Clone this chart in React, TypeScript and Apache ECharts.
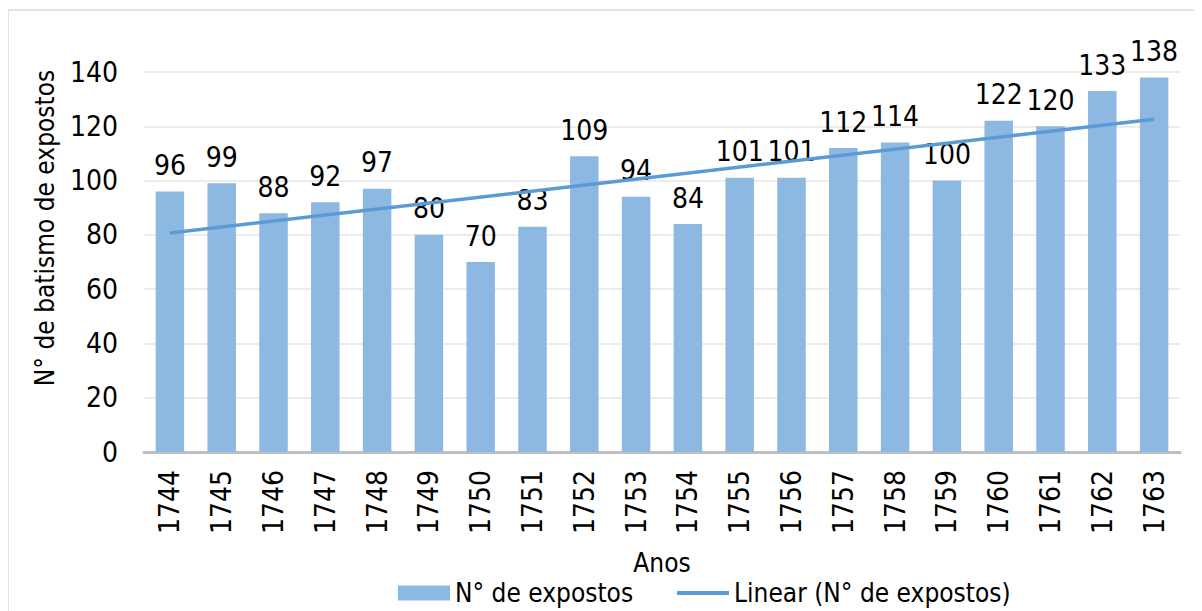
import React, { useEffect, useRef } from "react";
import * as echarts from "echarts";

const years = ["1744","1745","1746","1747","1748","1749","1750","1751","1752","1753","1754","1755","1756","1757","1758","1759","1760","1761","1762","1763"];
const expostos = [96, 99, 88, 92, 97, 80, 70, 83, 109, 94, 84, 101, 101, 112, 114, 100, 122, 120, 133, 138];
// Linear trend line endpoints (first and last year)
const trendStart = 80.7;
const trendEnd = 122.6;
const yTicks = [0, 20, 40, 60, 80, 100, 120, 140];

const FONT = '"Liberation Sans Narrow", "DejaVu Sans Condensed", "Liberation Sans", sans-serif';

export default function App() {
  const ref = useRef<HTMLDivElement>(null);
  useEffect(() => {
    if (!ref.current) return;
    const chart = echarts.init(ref.current, undefined, { renderer: "svg" });
    const trend = years.map((_, i) => (i === 0 ? trendStart : i === years.length - 1 ? trendEnd : null));
    chart.setOption({
      animation: false,
      textStyle: { fontFamily: FONT },
      graphic: [
        {
          type: "rect",
          shape: { x: 0, y: 2, width: 1220, height: 700 },
          style: { fill: "none", stroke: "#D9D9D9", lineWidth: 1.5 },
          silent: true,
        },
        {
          type: "text",
          x: 37,
          y: 220,
          rotation: Math.PI / 2,
          style: {
            text: "N° de batismo de expostos",
            fontFamily: FONT,
            fontSize: 26,
            fill: "#000",
            align: "center",
            verticalAlign: "middle",
          },
          silent: true,
        },
      ],
      grid: { left: 136, right: 22, top: 64, bottom: 159, containLabel: false },
      legend: {
        left: 385,
        top: 567,
        itemGap: 44,
        itemWidth: 52,
        itemHeight: 15,
        textStyle: { fontFamily: FONT, fontSize: 26, color: "#000" },
        data: [
          { name: "N° de expostos", icon: "rect" },
          { name: "Linear (N° de expostos)", icon: "path://M0,0h54v4h-54z" },
        ],
      },
      xAxis: {
        type: "category",
        data: years,
        name: "Anos",
        nameLocation: "middle",
        nameGap: 98,
        nameTextStyle: { fontFamily: FONT, fontSize: 26, color: "#000" },
        axisLine: { lineStyle: { color: "#BFBFBF", width: 3 } },
        axisTick: { show: false },
        axisLabel: { rotate: 90, margin: 18, fontFamily: FONT, fontSize: 28, color: "#000" },
      },
      yAxis: {
        type: "value",
        min: yTicks[0],
        max: yTicks[yTicks.length - 1],
        interval: 20,
        axisLine: { show: false },
        axisTick: { show: false },
        axisLabel: { margin: 26, fontFamily: FONT, fontSize: 28, color: "#000" },
        splitLine: { lineStyle: { color: "#E6E6E6", width: 1.5 } },
      },
      series: [
        {
          name: "N° de expostos",
          type: "bar",
          data: expostos,
          barWidth: "55%",
          itemStyle: { color: "#8DB8E1" },
          label: {
            show: true,
            position: "top",
            distance: 12,
            fontFamily: FONT,
            fontSize: 28,
            color: "#000",
          },
        },
        {
          name: "Linear (N° de expostos)",
          type: "line",
          data: trend,
          connectNulls: true,
          symbol: "none",
          lineStyle: { color: "#5B9BD5", width: 3.5 },
          itemStyle: { color: "#5B9BD5" },
          z: 5,
        },
      ],
    });
    return () => chart.dispose();
  }, []);
  return <div ref={ref} style={{ width: 1194, height: 603 }} />;
}
